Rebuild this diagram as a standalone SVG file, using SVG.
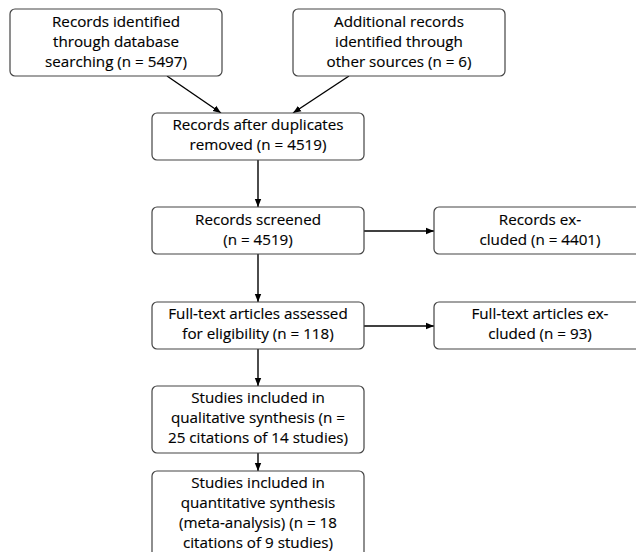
<svg xmlns="http://www.w3.org/2000/svg" width="636" height="552" viewBox="0 0 636 552">
<style>
.box{fill:#fff;stroke:#444;stroke-width:1.2}
.t{font-family:"Open Sans","Noto Sans",sans-serif;font-size:15.2px;fill:#000;stroke:#000;stroke-width:0.15;text-anchor:middle}
.c{stroke:#000;stroke-width:1.4;fill:none;marker-end:url(#ah)}
</style>
<defs>
<marker id="ah" viewBox="0 0 10 10" refX="10" refY="5" markerWidth="8" markerHeight="8" markerUnits="userSpaceOnUse" orient="auto">
<path d="M0,1 L10,5 L0,9 Z" fill="#000"/>
</marker>
</defs>
<rect width="636" height="552" fill="#fff"/>
<g id="connectors">
<line class="c" x1="167" y1="76" x2="221" y2="113"/>
<line class="c" x1="349" y1="76" x2="293" y2="113"/>
<line class="c" x1="258" y1="160" x2="258" y2="207"/>
<line class="c" x1="364" y1="231" x2="434" y2="231"/>
<line class="c" x1="258" y1="254" x2="258" y2="302"/>
<line class="c" x1="364" y1="326" x2="434" y2="326"/>
<line class="c" x1="258" y1="349" x2="258" y2="386"/>
<line class="c" x1="258" y1="453" x2="258" y2="471"/>
</g>
<g id="n1">
<rect class="box" x="10" y="9" width="212" height="67" rx="5"/>
<text class="t" x="116" y="27">Records identified</text>
<text class="t" x="116" y="47">through database</text>
<text class="t" x="116" y="67">searching (n = 5497)</text>
</g>
<g id="n2">
<rect class="box" x="293" y="9" width="212" height="67" rx="5"/>
<text class="t" x="399" y="27">Additional records</text>
<text class="t" x="399" y="47">identified through</text>
<text class="t" x="399" y="67">other sources (n = 6)</text>
</g>
<g id="n3">
<rect class="box" x="152" y="113" width="212" height="47" rx="5"/>
<text class="t" x="258" y="130">Records after duplicates</text>
<text class="t" x="258" y="150">removed (n = 4519)</text>
</g>
<g id="n4">
<rect class="box" x="152" y="207" width="212" height="47" rx="5"/>
<text class="t" x="258" y="225">Records screened</text>
<text class="t" x="258" y="245">(n = 4519)</text>
</g>
<g id="n5">
<rect class="box" x="434" y="207" width="212" height="47" rx="5"/>
<text class="t" x="540" y="225">Records ex-</text>
<text class="t" x="540" y="245">cluded (n = 4401)</text>
</g>
<g id="n6">
<rect class="box" x="152" y="302" width="212" height="47" rx="5"/>
<text class="t" x="258" y="319">Full-text articles assessed</text>
<text class="t" x="258" y="339">for eligibility (n = 118)</text>
</g>
<g id="n7">
<rect class="box" x="434" y="302" width="212" height="47" rx="5"/>
<text class="t" x="540" y="319">Full-text articles ex-</text>
<text class="t" x="540" y="339">cluded (n = 93)</text>
</g>
<g id="n8">
<rect class="box" x="152" y="386" width="212" height="67" rx="5"/>
<text class="t" x="258" y="403">Studies included in</text>
<text class="t" x="258" y="423">qualitative synthesis (n =</text>
<text class="t" x="258" y="443">25 citations of 14 studies)</text>
</g>
<g id="n9">
<rect class="box" x="152" y="471" width="212" height="90" rx="5"/>
<text class="t" x="258" y="488">Studies included in</text>
<text class="t" x="258" y="508">quantitative synthesis</text>
<text class="t" x="258" y="528">(meta-analysis) (n = 18</text>
<text class="t" x="258" y="548">citations of 9 studies)</text>
</g>
</svg>
